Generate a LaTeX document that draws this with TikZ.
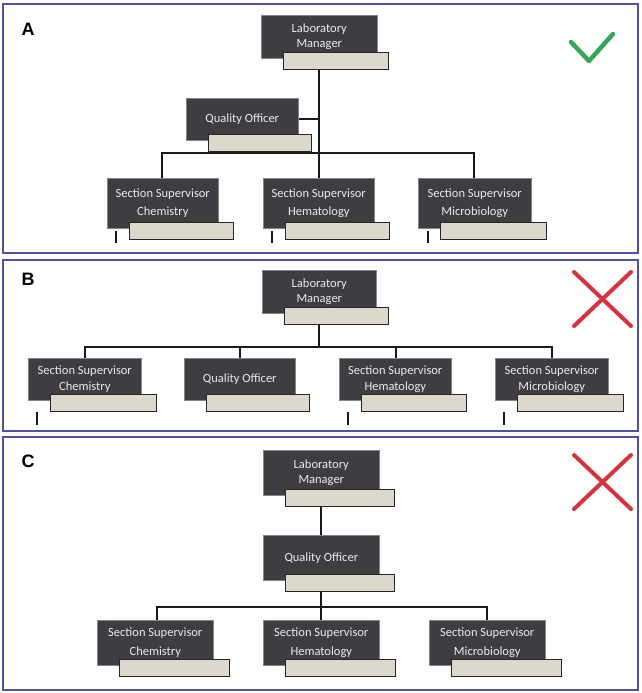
\documentclass[tikz,border=0pt]{standalone}
\usepackage{fontspec}
\setmainfont{Carlito}
\newfontfamily\lettfont{Liberation Sans}
\definecolor{boxdark}{HTML}{3E3D42}
\definecolor{boxedge}{HTML}{85848A}
\definecolor{boxlight}{HTML}{DDD8CC}
\definecolor{framec}{HTML}{5052A2}
\definecolor{okgreen}{HTML}{35A857}
\definecolor{badred}{HTML}{D7323E}
\newcommand\orgunit[7]{%
  \node[darkbox, minimum width=#4, minimum height=#5, anchor=north west] (#1) at (#2,#3) {#7};
  \node[lightbox, minimum width=#6, anchor=north west] (#1-l) at (#2+22,#3+#5-6) {};
}
\begin{document}
\begin{tikzpicture}[x=1pt,y=-1pt,
  darkbox/.style={fill=boxdark, draw=boxedge, line width=0.6, inner sep=0pt, text=white!92!black,
    align=center, font=\fontsize{12.5}{15.5}\selectfont},
  lightbox/.style={fill=boxlight, draw=black!85, line width=1.3, minimum height=17, inner sep=0pt},
  frame/.style={draw=framec, line width=2.5},
  conn/.style={draw=black!90, line width=1.8},
  tick/.style={draw=black!90, line width=1.8},
  panellabel/.style={font=\lettfont\bfseries\fontsize{18}{18}\selectfont, inner sep=0pt},
  okmark/.style={draw=okgreen, line width=4.5, line cap=round, line join=round},
  badmark/.style={draw=badred, line width=4, line cap=round}]
\useasboundingbox (0,0) rectangle (641,693);
\fill[white] (0,0) rectangle (641,693);

% ---------------- Panel A ----------------
\draw[frame] (3,4) rectangle (638,253);
\node[panellabel] (labA) at (28,29) {A};
\coordinate (okA1) at (571,42);
\coordinate (okA2) at (589,61);
\coordinate (okA3) at (613,34);
\draw[okmark] (okA1) -- (okA2) -- (okA3);

\coordinate (busA) at (319,153);
\draw[conn] (319,70) -- (busA) -- (319,180);
\draw[conn] (162,180) -- (162,153) -- (474,153) -- (474,180);
\draw[conn] (296,119) -- (319,119);

\orgunit{lmA}{261}{15}{116}{43}{105}{Laboratory\\Manager}
\orgunit{qoA}{186}{98}{112}{42}{103}{Quality Officer}
\orgunit{chemA}{107}{178}{111}{50}{104}{Section Supervisor\\[3pt]Chemistry}
\orgunit{hemA}{263}{178}{111}{50}{104}{Section Supervisor\\[3pt]Hematology}
\orgunit{micA}{418}{178}{113}{50}{106}{Section Supervisor\\[3pt]Microbiology}

\coordinate (tA1) at (116,243);
\coordinate (tA2) at (272,243);
\coordinate (tA3) at (428,243);
\draw[tick] (116,231) -- (tA1);
\draw[tick] (272,231) -- (tA2);
\draw[tick] (428,231) -- (tA3);

% ---------------- Panel B ----------------
\draw[frame] (3,260) rectangle (638,431);
\node[panellabel] (labB) at (28,279) {B};
\coordinate (xB1) at (574,272);
\coordinate (xB2) at (631,326);
\coordinate (xB3) at (631,272);
\coordinate (xB4) at (574,326);
\draw[badmark] (xB1) -- (xB2);
\draw[badmark] (xB3) -- (xB4);

\coordinate (busB) at (319,347);
\draw[conn] (319,320) -- (busB);
\draw[conn] (85,360) -- (85,347) -- (552,347) -- (552,360);
\draw[conn] (240,347) -- (240,360);
\draw[conn] (396,347) -- (396,360);

\orgunit{lmB}{262}{270}{114}{43}{104}{Laboratory\\Manager}
\orgunit{chemB}{28}{358}{113}{42}{106}{Section Supervisor\\Chemistry}
\orgunit{qoB}{184}{358}{111}{42}{103}{Quality Officer}
\orgunit{hemB}{339}{358}{112}{42}{105}{Section Supervisor\\Hematology}
\orgunit{micB}{495}{358}{113}{42}{106}{Section Supervisor\\Microbiology}

\coordinate (tB1) at (37,425);
\coordinate (tB2) at (348,425);
\coordinate (tB3) at (504,425);
\draw[tick] (37,412) -- (tB1);
\draw[tick] (348,412) -- (tB2);
\draw[tick] (504,412) -- (tB3);

% ---------------- Panel C ----------------
\draw[frame] (3,437) rectangle (638,690);
\node[panellabel] (labC) at (28,461) {C};
\coordinate (xC1) at (574,455);
\coordinate (xC2) at (631,509);
\coordinate (xC3) at (631,455);
\coordinate (xC4) at (574,509);
\draw[badmark] (xC1) -- (xC2);
\draw[badmark] (xC3) -- (xC4);

\coordinate (busC) at (321,607);
\draw[conn] (321,500) -- (321,537);
\draw[conn] (321,585) -- (busC) -- (321,622);
\draw[conn] (157,622) -- (157,607) -- (487,607) -- (487,622);

\orgunit{lmC}{263}{450}{116}{45}{109}{Laboratory\\Manager}
\orgunit{qoC}{263}{535}{116}{45}{109}{Quality Officer}
\orgunit{chemC}{97}{620}{116}{45}{110}{Section Supervisor\\[4pt]Chemistry}
\orgunit{hemC}{263}{620}{116}{45}{110}{Section Supervisor\\[4pt]Hematology}
\orgunit{micC}{429}{620}{116}{45}{110}{Section Supervisor\\[4pt]Microbiology}
\end{tikzpicture}
\end{document}
